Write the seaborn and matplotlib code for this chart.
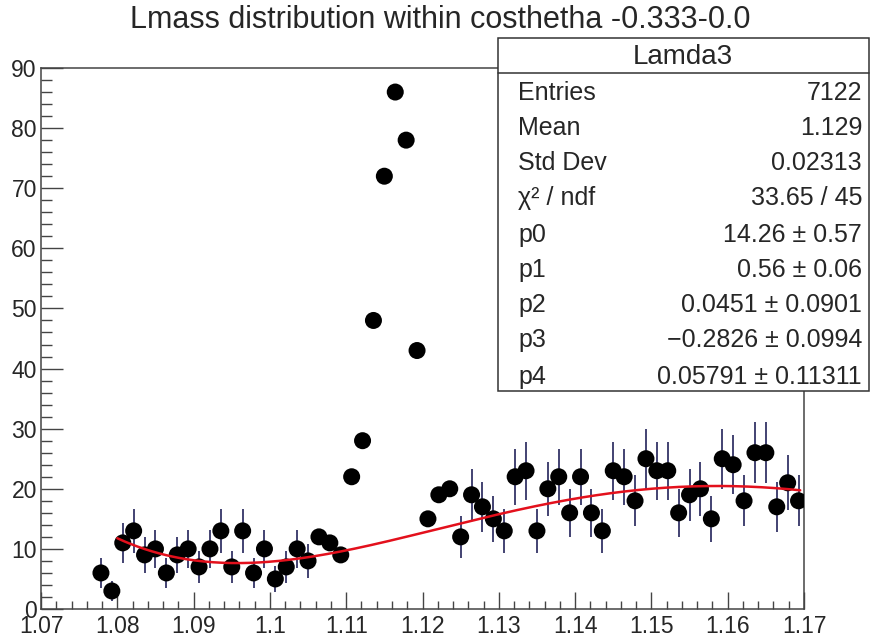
import numpy as np
import pandas as pd
import matplotlib
matplotlib.use("Agg")
import matplotlib.pyplot as plt
from matplotlib.ticker import MultipleLocator, FixedLocator
from matplotlib.patches import Rectangle
from matplotlib.lines import Line2D
import seaborn as sns
from numpy.polynomial import legendre

# Histogram binning: 70 bins over the Lambda mass window
mass_lo, mass_hi, n_bins = 1.07, 1.17, 70
first_filled_bin = 5

# Bin contents of the filled bins (bins 5..69)
counts = [6, 3, 11, 13, 9, 10, 6, 9, 10, 7,
          10, 13, 7, 13, 6, 10, 5, 7, 10, 8,
          12, 11, 9, 22, 28, 48, 72, 86, 78, 43,
          15, 19, 20, 12, 19, 17, 15, 13, 22, 23,
          13, 20, 22, 16, 22, 16, 13, 23, 22, 18,
          25, 23, 23, 16, 19, 20, 15, 25, 24, 18,
          26, 26, 17, 21, 18]

# Signal window: bin errors set to zero there so the fit sees only sidebands
signal_lo, signal_hi = 1.106, 1.124

# Background fit: p0 * (1 + p1*P1 + p2*P2 + p3*P3 + p4*P4), Legendre in scaled mass
fit_params = [14.26, 0.56, 0.0451, -0.2826, 0.05791]
fit_lo, fit_hi = 1.08, 1.17
fit_draw_hi = 1.1695

title = "Lmass distribution within costhetha -0.333-0.0"
stats_name = "Lamda3"
stats_labels = ["Entries", "Mean", "Std Dev", "\u03c7\u00b2 / ndf", "p0", "p1", "p2", "p3", "p4"]
stats_values = ["7122", "1.129", "0.02313", "33.65 / 45",
                "14.26 \u00b1 0.57", "0.56 \u00b1 0.06", "0.0451 \u00b1 0.0901",
                "\u22120.2826 \u00b1 0.0994", "0.05791 \u00b1 0.11311"]
x_ticks = [1.07, 1.08, 1.09, 1.10, 1.11, 1.12, 1.13, 1.14, 1.15, 1.16, 1.17]
x_tick_labels = ["1.07", "1.08", "1.09", "1.1", "1.11", "1.12", "1.13", "1.14", "1.15", "1.16", "1.17"]
y_ticks = [0, 10, 20, 30, 40, 50, 60, 70, 80, 90]

sns.set_style("white")
plt.rcParams["font.family"] = ["Liberation Sans", "DejaVu Sans"]

W, H = 871, 638
fig = plt.figure(figsize=(W / 100, H / 100), dpi=100)

def px_x(x):
    return x / W

def px_y(y):
    return 1 - y / H

ax_l, ax_r, ax_t, ax_b = 41, 804, 68, 609
ax = fig.add_axes([px_x(ax_l), px_y(ax_b), (ax_r - ax_l) / W, (ax_b - ax_t) / H])

width = (mass_hi - mass_lo) / n_bins
centers = mass_lo + (np.arange(first_filled_bin, first_filled_bin + len(counts)) + 0.5) * width
err = np.sqrt(counts)
err[(centers > signal_lo) & (centers < signal_hi)] = 0.0
df = pd.DataFrame({"mass": centers, "count": counts, "err": err})

# error bars (sidebands only)
eb = df[df["err"] > 0]
ax.vlines(eb["mass"], eb["count"] - eb["err"], eb["count"] + eb["err"],
          color="#22225a", linewidth=1.2, zorder=2)
# markers
sns.scatterplot(data=df, x="mass", y="count", ax=ax, color="black", s=150,
                edgecolor="none", zorder=3, legend=False)

# fit curve
xf = np.linspace(fit_lo, fit_draw_hi, 300)
t = (xf - (fit_lo + fit_hi) / 2) / ((fit_hi - fit_lo) / 2)
coef = [1.0] + list(fit_params[1:])
yf = fit_params[0] * legendre.legval(t, coef)
sns.lineplot(x=xf, y=yf, ax=ax, color="#e3101c", linewidth=1.8, zorder=4)

ax.set_xlim(mass_lo, mass_hi)
ax.set_ylim(0, 90)
ax.set_xlabel("")
ax.set_ylabel("")

ax.xaxis.set_major_locator(FixedLocator(x_ticks))
ax.set_xticklabels(x_tick_labels)
ax.xaxis.set_minor_locator(MultipleLocator(0.002))
ax.yaxis.set_major_locator(FixedLocator(y_ticks))
ax.set_yticklabels([str(v) for v in y_ticks])
ax.yaxis.set_minor_locator(MultipleLocator(2))

axis_col = "#444444"
ax.tick_params(axis="x", which="major", direction="in", length=12, width=1, color=axis_col,
               labelsize=16.5, pad=4, bottom=True, top=False)
ax.tick_params(axis="x", which="minor", direction="in", length=6, width=1, color=axis_col,
               bottom=True, top=False)
ax.tick_params(axis="y", which="major", direction="in", length=16, width=1, color=axis_col,
               labelsize=16.5, pad=3, left=True, right=False)
ax.tick_params(axis="y", which="minor", direction="in", length=8, width=1, color=axis_col,
               left=True, right=False)
for s in ax.spines.values():
    s.set_color(axis_col)
    s.set_linewidth(1.1)
    s.set_visible(True)

fig.text(px_x(440), px_y(20), title, ha="center", va="center", fontsize=22)

# statistics box
bx_l, bx_r, bx_t, bx_b = 498, 869, 38, 391
fig.add_artist(Rectangle((px_x(bx_l), px_y(bx_b)), (bx_r - bx_l) / W, (bx_b - bx_t) / H,
                         transform=fig.transFigure, facecolor="white", edgecolor="#333333",
                         linewidth=1.1, zorder=10))
fig.add_artist(Line2D([px_x(bx_l), px_x(bx_r)], [px_y(73), px_y(73)],
                      transform=fig.transFigure, color="#333333", linewidth=1.1, zorder=11))
fig.text(px_x(683), px_y(57), stats_name, ha="center", va="center", fontsize=20, zorder=12)
row_y = [93, 128, 163, 198, 235, 270, 305, 340, 377]
for yy, lab, val in zip(row_y, stats_labels, stats_values):
    fig.text(px_x(518), px_y(yy), lab, ha="left", va="center", fontsize=18, zorder=12)
    fig.text(px_x(862), px_y(yy), val, ha="right", va="center", fontsize=18, zorder=12)

fig.savefig("out.png", dpi=100, facecolor="white")
